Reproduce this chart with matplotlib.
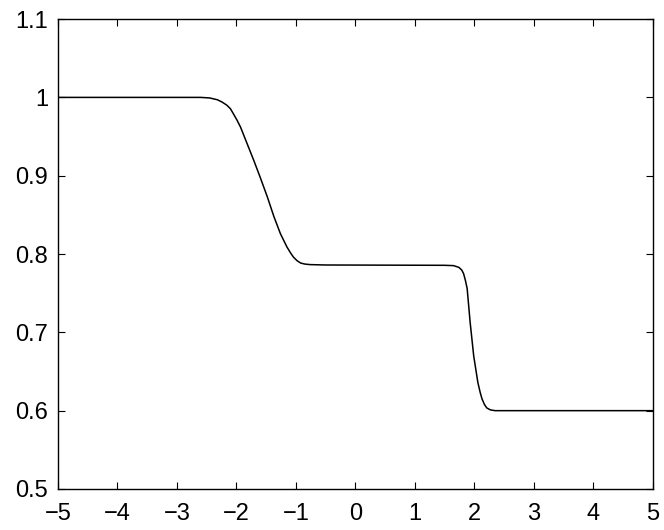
import matplotlib
matplotlib.use('Agg')
import matplotlib.pyplot as plt

# profile
x = [-5.0, -2.6, -2.45, -2.32, -2.24, -2.16, -2.1, -2.05, -1.99, -1.93, -1.82,
     -1.71, -1.60, -1.48, -1.37, -1.26, -1.15, -1.09, -1.04, -0.98, -0.92, -0.85,
     -0.76, -0.5, 1.5, 1.65, 1.74, 1.79, 1.82, 1.85, 1.88, 1.93, 1.99, 2.06,
     2.10, 2.13, 2.17, 2.21, 2.27, 2.35, 5.0]
y = [1.0, 1.0, 0.9993, 0.997, 0.994, 0.990, 0.9855, 0.979, 0.971, 0.962, 0.941,
     0.920, 0.898, 0.873, 0.848, 0.826, 0.809, 0.8015, 0.796, 0.7915, 0.7885, 0.7872,
     0.7865, 0.786, 0.7856, 0.7852, 0.783, 0.7795, 0.775, 0.7665, 0.756, 0.713, 0.670, 0.636,
     0.623, 0.615, 0.608, 0.6035, 0.601, 0.6, 0.6]

xticks = [-5, -4, -3, -2, -1, 0, 1, 2, 3, 4, 5]
yticks = [0.5, 0.6, 0.7, 0.8, 0.9, 1.0, 1.1]
yticklabels = ['0.5', '0.6', '0.7', '0.8', '0.9', '1', '1.1']

plt.rcParams['font.family'] = ['Liberation Sans', 'DejaVu Sans']

fig = plt.figure(figsize=(6.64, 5.30), dpi=100)
ax = fig.add_axes([0.0873, 0.0774, 0.8957, 0.8866])
ax.plot(x, y, color='black', linewidth=1.1)

ax.set_xlim(-5, 5)
ax.set_ylim(0.5, 1.1)
ax.set_xticks(xticks)
ax.set_xticklabels([str(v).replace('-', '\u2212') for v in xticks])
ax.set_yticks(yticks)
ax.set_yticklabels(yticklabels)
ax.tick_params(direction='in', top=True, right=True, length=5, width=0.8,
               labelsize=17)
ax.tick_params(axis='x', pad=10)
ax.tick_params(axis='y', pad=7)
for s in ax.spines.values():
    s.set_linewidth(1.0)

fig.savefig('out.png', dpi=100)
